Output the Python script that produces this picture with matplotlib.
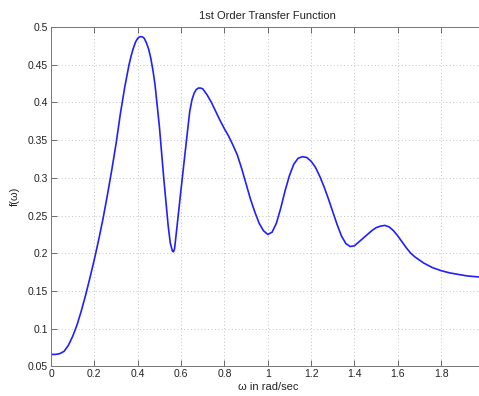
import numpy as np
import matplotlib.pyplot as plt

plt.rcParams['font.family'] = ['Liberation Sans', 'DejaVu Sans']

# values
omega = [0.00, 0.02, 0.04, 0.06, 0.08, 0.10, 0.12, 0.14, 0.16, 0.18,
         0.20, 0.22, 0.24, 0.26, 0.28, 0.30, 0.32, 0.34, 0.36, 0.37,
         0.38, 0.39, 0.40, 0.41, 0.42, 0.43, 0.44, 0.45, 0.46, 0.47,
         0.48, 0.50, 0.52, 0.54, 0.55, 0.56, 0.565, 0.57, 0.58,
         0.60, 0.62, 0.64, 0.65, 0.66, 0.67, 0.68, 0.69, 0.70, 0.72, 0.74,
         0.76, 0.78, 0.80, 0.82, 0.84, 0.86, 0.88, 0.90, 0.92, 0.94, 0.96,
         0.98, 1.00, 1.02, 1.04, 1.06, 1.08, 1.10, 1.12, 1.14, 1.16, 1.18,
         1.20, 1.22, 1.24, 1.26, 1.28, 1.30, 1.32, 1.34, 1.36, 1.38,
         1.40, 1.42, 1.44, 1.46, 1.48, 1.50, 1.52, 1.54, 1.56, 1.58,
         1.60, 1.62, 1.64, 1.66, 1.68, 1.70, 1.72, 1.76, 1.80, 1.84,
         1.88, 1.92, 1.96, 2.00]
f_omega = [0.066, 0.066, 0.067, 0.070, 0.078, 0.090, 0.105, 0.124, 0.145, 0.168,
           0.192, 0.218, 0.246, 0.277, 0.310, 0.345, 0.385, 0.420, 0.450, 0.462,
           0.472, 0.480, 0.485, 0.487, 0.487, 0.485, 0.479, 0.471, 0.459, 0.443,
           0.423, 0.368, 0.300, 0.238, 0.214, 0.203, 0.202, 0.206, 0.232,
           0.285, 0.337, 0.388, 0.403, 0.412, 0.417, 0.419, 0.419, 0.418, 0.410, 0.400,
           0.388, 0.376, 0.365, 0.355, 0.343, 0.330, 0.312, 0.292, 0.272, 0.255, 0.240,
           0.230, 0.225, 0.228, 0.240, 0.260, 0.283, 0.303, 0.318, 0.326, 0.328, 0.327,
           0.322, 0.314, 0.302, 0.288, 0.272, 0.255, 0.238, 0.223, 0.213, 0.209,
           0.210, 0.215, 0.220, 0.225, 0.230, 0.234, 0.236, 0.237, 0.235, 0.230,
           0.223, 0.215, 0.207, 0.200, 0.195, 0.191, 0.187, 0.181, 0.177, 0.174,
           0.172, 0.170, 0.169, 0.168]

xticks = [0, 0.2, 0.4, 0.6, 0.8, 1, 1.2, 1.4, 1.6, 1.8]
xtick_labels = ['0', '0.2', '0.4', '0.6', '0.8', '1', '1.2', '1.4', '1.6', '1.8']
yticks = [0.05, 0.1, 0.15, 0.2, 0.25, 0.3, 0.35, 0.4, 0.45, 0.5]
ytick_labels = ['0.05', '0.1', '0.15', '0.2', '0.25', '0.3', '0.35', '0.4', '0.45', '0.5']

fig = plt.figure(figsize=(4.79, 3.96), dpi=100)
# axes run past the right edge, as in the cropped original
ax = fig.add_axes([0.1065, 0.0745, 0.905, 0.8575])

ax.plot(omega, f_omega, color='#2020ff', linewidth=1.2, solid_joinstyle='round')

ax.set_xlim(0, 2)
ax.set_ylim(0.05, 0.5)
ax.set_xticks(xticks)
ax.set_xticklabels(xtick_labels)
ax.set_yticks(yticks)
ax.set_yticklabels(ytick_labels)

ax.grid(True, linestyle=(0, (1, 2.5)), color='#c4c4c4', linewidth=0.7)
ax.tick_params(direction='in', length=4, width=0.6, labelsize=7.5,
               top=True, right=True, color='#555555', labelcolor='#222222', pad=2)
for s in ax.spines.values():
    s.set_color('#777777')
    s.set_linewidth(0.7)

ax.set_title('1st Order Transfer Function', fontsize=8, pad=6, color='#222222')
ax.set_xlabel('ω in rad/sec', fontsize=8, labelpad=2, color='#222222')
ax.set_ylabel('f(ω)', fontsize=8, labelpad=6, color='#222222')

fig.savefig('out.png', dpi=100)
